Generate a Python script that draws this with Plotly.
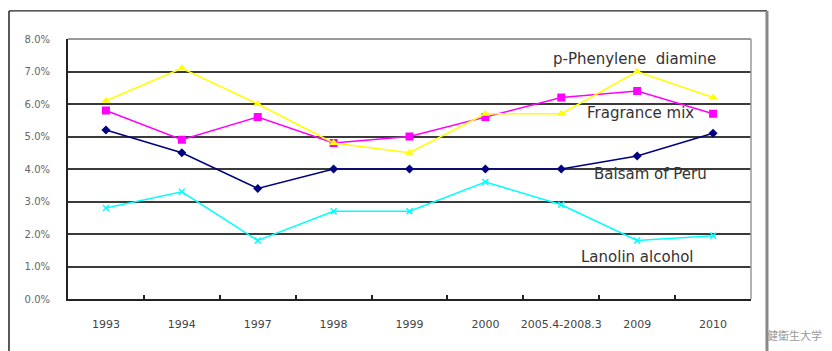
import plotly.graph_objects as go

categories = ["1993", "1994", "1997", "1998", "1999", "2000", "2005.4-2008.3", "2009", "2010"]
ppd = [6.1, 7.1, 6.0, 4.8, 4.5, 5.7, 5.7, 7.0, 6.2]
fragrance = [5.8, 4.9, 5.6, 4.8, 5.0, 5.6, 6.2, 6.4, 5.7]
balsam = [5.2, 4.5, 3.4, 4.0, 4.0, 4.0, 4.0, 4.4, 5.1]
lanolin = [2.8, 3.3, 1.8, 2.7, 2.7, 3.6, 2.9, 1.8, 1.95]
y_ticks = [0, 1, 2, 3, 4, 5, 6, 7, 8]
y_tick_labels = ["0.0%", "1.0%", "2.0%", "3.0%", "4.0%", "5.0%", "6.0%", "7.0%", "8.0%"]
series_labels = ["p-Phenylene  diamine", "Fragrance mix", "Balsam of Peru", "Lanolin alcohol"]

fig = go.Figure()
fig.add_trace(go.Scatter(x=categories, y=lanolin, mode="lines+markers", name=series_labels[3],
                         line=dict(color="#00FFFF", width=1.5),
                         marker=dict(symbol="x-thin", size=6, color="#00FFFF", line=dict(color="#00FFFF", width=1.5))))
fig.add_trace(go.Scatter(x=categories, y=balsam, mode="lines+markers", name=series_labels[2],
                         line=dict(color="#000080", width=1.5),
                         marker=dict(symbol="diamond", size=7, color="#000080")))
fig.add_trace(go.Scatter(x=categories, y=fragrance, mode="lines+markers", name=series_labels[1],
                         line=dict(color="#FF00FF", width=1.5),
                         marker=dict(symbol="square", size=8, color="#FF00FF")))
fig.add_trace(go.Scatter(x=categories, y=ppd, mode="lines+markers", name=series_labels[0],
                         line=dict(color="#FFFF00", width=1.5),
                         marker=dict(symbol="triangle-up", size=8, color="#FFFF00")))

lab_font = dict(family="DejaVu Sans, sans-serif", size=15, color="#333333")
for txt, xc, yv in zip(series_labels, [6.97, 7.04, 7.17, 7.0], [7.38, 5.72, 3.85, 1.29]):
    fig.add_annotation(x=xc, y=yv, text=txt, showarrow=False, font=lab_font)

fig.add_annotation(xref="paper", yref="paper", x=1.0, y=0, xanchor="left", yanchor="middle",
                   xshift=14, yshift=-36, text="健衛生大学", showarrow=False,
                   font=dict(family="Noto Sans CJK JP", size=11, color="#999999"))

# outer frame
fig.add_shape(type="line", xref="paper", yref="paper", x0=-0.0864, x1=-0.0864, y0=1.108, y1=-0.3,
              line=dict(color="#222222", width=1.5))
fig.add_shape(type="line", xref="paper", yref="paper", x0=-0.0864, x1=1.0234, y0=1.108, y1=1.108,
              line=dict(color="#222222", width=1.2))
fig.add_shape(type="line", xref="paper", yref="paper", x0=1.0234, x1=1.0234, y0=1.108, y1=-0.3,
              line=dict(color="#888888", width=3))
# plot area top/right border
fig.add_shape(type="line", xref="paper", yref="paper", x0=0, x1=1, y0=1, y1=1,
              line=dict(color="#999999", width=2))
fig.add_shape(type="line", xref="paper", yref="paper", x0=1, x1=1, y0=0, y1=1,
              line=dict(color="#999999", width=1.5))

fig.update_layout(
    width=824, height=343,
    margin=dict(l=60, r=81, t=31, b=52),
    paper_bgcolor="white", plot_bgcolor="white",
    showlegend=False,
    font=dict(family="DejaVu Sans, sans-serif", size=10, color="#444444"),
)
fig.update_xaxes(type="category", categoryorder="array", categoryarray=categories,
                 range=[-0.5, 8.5], showgrid=False, showline=True, linecolor="#222222", linewidth=2,
                 ticks="inside", tickson="boundaries", ticklen=4, tickwidth=1.5, tickcolor="#222222",
                 tickfont=dict(family="DejaVu Sans, sans-serif", size=11, color="#444444"),
                 tickangle=0, automargin=False, ticklabelstandoff=14, zeroline=False)
fig.update_yaxes(range=[0, 8], tickvals=y_ticks, ticktext=y_tick_labels, showgrid=True,
                 gridcolor="#3a3a3a", gridwidth=2, showline=True, linecolor="#222222", linewidth=2,
                 ticks="", tickfont=dict(family="DejaVu Sans, sans-serif", size=10, color="#666666"),
                 automargin=False, ticklabelstandoff=14, zeroline=False)

fig.write_html("out.html")
